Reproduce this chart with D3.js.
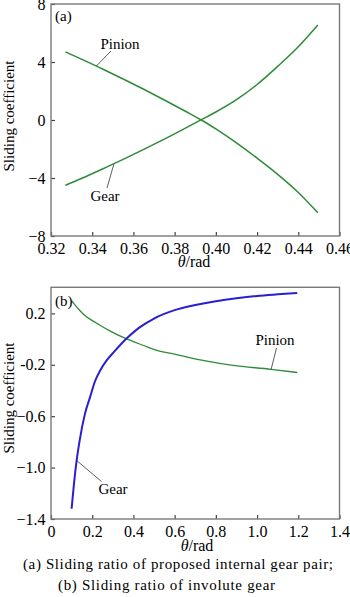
<!DOCTYPE html>
<html>
<head>
<meta charset="utf-8">
<script src="https://cdn.jsdelivr.net/npm/d3@7/dist/d3.min.js"></script>
<style>
  html, body { margin: 0; padding: 0; background: #fff; }
  svg { display: block; }
</style>
</head>
<body>
<svg id="chart" width="350" height="597" font-family="Liberation Serif"></svg>
<script>
// ---------- Data: panel (a) ----------
const aPinionTheta = [0.327, 0.335, 0.345, 0.355, 0.365, 0.375, 0.385, 0.393, 0.400, 0.410, 0.420, 0.430, 0.440, 0.4495];
const aPinionValue = [4.70, 4.18, 3.52, 2.83, 2.12, 1.38, 0.62, 0.00, -0.62, -1.58, -2.63, -3.75, -5.00, -6.40];
const aGearTheta   = [0.327, 0.335, 0.345, 0.355, 0.365, 0.375, 0.385, 0.393, 0.400, 0.410, 0.420, 0.430, 0.440, 0.4495];
const aGearValue   = [-4.50, -4.02, -3.38, -2.72, -2.03, -1.32, -0.58, 0.02, 0.55, 1.40, 2.45, 3.70, 5.05, 6.55];
const aXTicks = [0.32, 0.34, 0.36, 0.38, 0.40, 0.42, 0.44, 0.46];
const aXTickLabels = ["0.32", "0.34", "0.36", "0.38", "0.40", "0.42", "0.44", "0.46"];
const aYTicks = [-8, -4, 0, 4, 8];
const aYTickLabels = ["\u22128", "\u22124", "0", "4", "8"];

// ---------- Data: panel (b) ----------
const bPinionTheta = [0.100, 0.130, 0.160, 0.220, 0.290, 0.364, 0.450, 0.510, 0.608, 0.750, 0.883, 1.068, 1.195];
const bPinionValue = [0.300, 0.240, 0.190, 0.125, 0.060, 0.003, -0.050, -0.085, -0.120, -0.170, -0.205, -0.235, -0.260];
const bGearTheta   = [0.100, 0.110, 0.124, 0.140, 0.165, 0.190, 0.213, 0.240, 0.270, 0.300, 0.364, 0.425, 0.500, 0.600, 0.700, 0.800, 0.900, 1.000, 1.100, 1.195];
const bGearValue   = [-1.32, -1.15, -0.95, -0.78, -0.58, -0.45, -0.33, -0.24, -0.165, -0.11, 0.00, 0.085, 0.16, 0.225, 0.265, 0.295, 0.318, 0.336, 0.348, 0.358];
const bXTicks = [0, 0.2, 0.4, 0.6, 0.8, 1.0, 1.2, 1.4];
const bXTickLabels = ["0", "0.2", "0.4", "0.6", "0.8", "1.0", "1.2", "1.4"];
const bYTicks = [-1.4, -1.0, -0.6, -0.2, 0.2];
const bYTickLabels = ["\u22121.4", "\u22121.0", "\u22120.6", "-0.2", "0.2"];

const yTitle = "Sliding coefficient";
const captions = ["(a) Sliding ratio of proposed internal gear pair;", "(b) Sliding ratio of involute gear"];

// ---------- Drawing ----------
const svg = d3.select("#chart");
const green = "#2e8b3a";
const blue = "#2a1fd0";

function txt(sel, size) {
  return sel.attr("font-family", "Liberation Serif")
    .style("font-family", "'Liberation Serif'")
    .style("font-size", size + "px").attr("fill", "#000");
}

function panel(cfg) {
  const x = d3.scaleLinear().domain(cfg.xDomain).range([cfg.left, cfg.right]);
  const y = d3.scaleLinear().domain(cfg.yDomain).range([cfg.bottom, cfg.top]);
  const g = svg.append("g");

  const xAxis = d3.axisBottom(x).tickValues(cfg.xTicks)
    .tickFormat((d, i) => cfg.xTickLabels[i])
    .tickSizeInner(-4).tickSizeOuter(0).tickPadding(6.5);
  const gx = g.append("g").attr("transform", `translate(0,${cfg.bottom})`).call(xAxis);
  gx.attr("font-family", "Liberation Serif").attr("font-size", 16);
  gx.select(".domain").remove();
  gx.selectAll("line").attr("stroke", "#444").attr("stroke-width", 1.2);
  txt(gx.selectAll("text"), 16);

  const yAxis = d3.axisLeft(y).tickValues(cfg.yTicks)
    .tickFormat((d, i) => cfg.yTickLabels[i])
    .tickSizeInner(-4).tickSizeOuter(0).tickPadding(5.5);
  const gy = g.append("g").attr("transform", `translate(${cfg.left},0)`).call(yAxis);
  gy.attr("font-family", "Liberation Serif").attr("font-size", 16);
  gy.select(".domain").remove();
  gy.selectAll("line").attr("stroke", "#444").attr("stroke-width", 1.2);
  txt(gy.selectAll("text"), 16);

  g.append("rect")
    .attr("x", cfg.left).attr("y", cfg.top)
    .attr("width", cfg.right - cfg.left).attr("height", cfg.bottom - cfg.top)
    .attr("fill", "none").attr("stroke", "#7a7a7a").attr("stroke-width", 1.4);

  cfg.series.forEach(s => {
    const pts = s.xs.map((v, i) => [v, s.ys[i]]);
    g.append("path")
      .attr("d", d3.line().x(d => x(d[0])).y(d => y(d[1])).curve(d3.curveMonotoneX)(pts))
      .attr("fill", "none").attr("stroke", s.color).attr("stroke-width", s.width);
  });

  cfg.notes.forEach(n => {
    g.append("line")
      .attr("x1", n.lx1).attr("y1", n.ly1).attr("x2", x(n.px)).attr("y2", y(n.py))
      .attr("stroke", "#333").attr("stroke-width", 0.8);
    txt(g.append("text").attr("x", n.tx).attr("y", n.ty).attr("text-anchor", "middle"), 15).text(n.text);
  });

  txt(g.append("text").attr("x", cfg.left + 4).attr("y", cfg.tagY), 15).text(cfg.tag);

  txt(g.append("text")
    .attr("transform", `translate(14,${cfg.yTitleY}) rotate(-90)`)
    .attr("text-anchor", "middle"), 15).text(yTitle);

  const xt = txt(g.append("text").attr("x", cfg.xTitleX).attr("y", cfg.xTitleY)
    .attr("text-anchor", "middle"), 16);
  xt.append("tspan").style("font-style", "italic").text("\u03b8");
  xt.append("tspan").text("/rad");
}

panel({
  left: 51, right: 339.5, top: 4, bottom: 236,
  xDomain: [0.32, 0.46], yDomain: [-8, 8],
  xTicks: aXTicks, xTickLabels: aXTickLabels, yTicks: aYTicks, yTickLabels: aYTickLabels,
  series: [
    { xs: aPinionTheta, ys: aPinionValue, color: green, width: 1.5 },
    { xs: aGearTheta, ys: aGearValue, color: green, width: 1.5 }
  ],
  notes: [
    { text: "Pinion", tx: 120, ty: 48.5, lx1: 111, ly1: 51, px: 0.342, py: 3.72 },
    { text: "Gear", tx: 105, ty: 200.5, lx1: 107, ly1: 188, px: 0.3505, py: -3.05 }
  ],
  tag: "(a)", tagY: 21,
  yTitleY: 116, xTitleX: 194, xTitleY: 267
});

panel({
  left: 51, right: 339.5, top: 287.3, bottom: 519,
  xDomain: [0, 1.4], yDomain: [-1.4, 0.403],
  xTicks: bXTicks, xTickLabels: bXTickLabels, yTicks: bYTicks, yTickLabels: bYTickLabels,
  series: [
    { xs: bPinionTheta, ys: bPinionValue, color: green, width: 1.3 },
    { xs: bGearTheta, ys: bGearValue, color: blue, width: 2 }
  ],
  notes: [
    { text: "Pinion", tx: 275, ty: 344.5, lx1: 276.5, ly1: 348, px: 1.068, py: -0.237 },
    { text: "Gear", tx: 113, ty: 493.5, lx1: 101.5, ly1: 481.5, px: 0.1245, py: -0.945 }
  ],
  tag: "(b)", tagY: 306,
  yTitleY: 398, xTitleX: 197, xTitleY: 551
});

txt(svg.append("text").attr("x", 23).attr("y", 568.5)
  .attr("textLength", 310).attr("lengthAdjust", "spacing"), 15).text(captions[0]);
txt(svg.append("text").attr("x", 58).attr("y", 589.5)
  .attr("textLength", 217).attr("lengthAdjust", "spacing"), 15).text(captions[1]);
</script>
</body>
</html>
